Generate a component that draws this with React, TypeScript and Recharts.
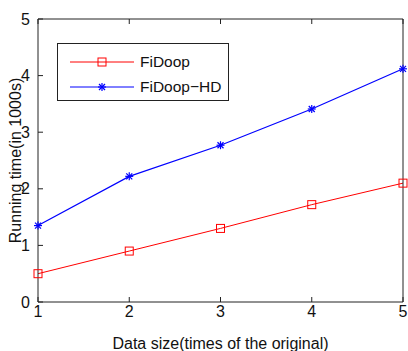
import React from "react";
import { LineChart, Line, XAxis, YAxis, Legend } from "recharts";

// times of the original data size
const sizes = [1, 2, 3, 4, 5];
// running time in 1000s
const fidoop = [0.5, 0.9, 1.3, 1.72, 2.1];
const fidoopHD = [1.35, 2.22, 2.77, 3.41, 4.12];
const yTicks = [0, 1, 2, 3, 4, 5];

const data = sizes.map((s, i) => ({ size: s, fidoop: fidoop[i], hd: fidoopHD[i] }));

const FONT = "'Liberation Sans', Arial, sans-serif";

const SquareDot = (props: any) => {
    const { cx, cy, stroke } = props;
    if (cx == null || cy == null) return null;
    return <rect x={cx - 4} y={cy - 4} width={8} height={8} fill="none" stroke={stroke} strokeWidth={1} />;
};

const StarDot = (props: any) => {
    const { cx, cy, stroke } = props;
    if (cx == null || cy == null) return null;
    const r = 4;
    const d = r * 0.75;
    return (
        <g stroke={stroke} strokeWidth={1.2}>
            <line x1={cx - r} y1={cy} x2={cx + r} y2={cy} />
            <line x1={cx} y1={cy - r} x2={cx} y2={cy + r} />
            <line x1={cx - d} y1={cy - d} x2={cx + d} y2={cy + d} />
            <line x1={cx - d} y1={cy + d} x2={cx + d} y2={cy - d} />
        </g>
    );
};

const LegendBox = ({ payload }: any) => (
    <div
        style={{
            border: "1px solid #222",
            background: "#fff",
            width: 172,
            height: 58,
            boxSizing: "border-box",
            padding: "5px 0 0 10px",
            fontFamily: FONT,
            fontSize: 15.5,
        }}
    >
        {(payload || []).map((p: any) => (
            <div key={p.value} style={{ display: "flex", alignItems: "center", height: 25 }}>
                <svg width={68} height={12}>
                    <line x1={2} y1={6} x2={66} y2={6} stroke={p.color} strokeWidth={1} />
                    {p.dataKey === "fidoop" ? (
                        <SquareDot cx={34} cy={6} stroke={p.color} />
                    ) : (
                        <StarDot cx={34} cy={6} stroke={p.color} />
                    )}
                </svg>
                <span style={{ marginLeft: 4, color: "#111" }}>{p.value}</span>
            </div>
        ))}
    </div>
);

export default function App() {
    const tickStyle = { fontSize: 16, fill: "#111", fontFamily: FONT };
    const labelStyle = { fontSize: 16, fill: "#111", fontFamily: FONT };
    return (
        <div style={{ position: "absolute", left: 0, top: 0, width: 408, height: 351, background: "#fff" }}>
            <LineChart width={408} height={351} data={data} margin={{ top: 18, left: 37, right: 4, bottom: 48 }}>
                <XAxis
                    dataKey="size"
                    type="number"
                    domain={[1, 5]}
                    ticks={sizes}
                    height={1}
                    tickSize={-5}
                    tickMargin={9}
                    tick={tickStyle}
                    stroke="#222"
                    label={{ value: "Data size(times of the original)", position: "insideBottom", offset: -46, style: labelStyle }}
                />
                <XAxis xAxisId="top" orientation="top" dataKey="size" type="number" domain={[1, 5]} ticks={sizes} height={1} tickSize={-5} tickFormatter={() => ""} stroke="#222" />
                <YAxis
                    domain={[0, 5]}
                    ticks={yTicks}
                    width={1}
                    tickSize={-5}
                    tickMargin={13}
                    tick={tickStyle}
                    stroke="#222"
                    label={{ value: "Running time(in 1000s)", angle: -90, position: "insideLeft", offset: -22, style: { ...labelStyle, textAnchor: "middle" } }}
                />
                <YAxis yAxisId="right" orientation="right" domain={[0, 5]} ticks={yTicks} width={1} tickSize={-5} tickFormatter={() => ""} stroke="#222" />
                <Legend
                    layout="horizontal"
                    align="center"
                    verticalAlign="middle"
                    content={<LegendBox />}
                    wrapperStyle={{ left: 57, top: 43, width: 172 }}
                />
                <Line dataKey="fidoop" name="FiDoop" stroke="#ff0000" strokeWidth={1} dot={<SquareDot />} isAnimationActive={false} />
                <Line dataKey="hd" name="FiDoop−HD" stroke="#0000ff" strokeWidth={1.2} dot={<StarDot />} isAnimationActive={false} />
            </LineChart>
        </div>
    );
}
